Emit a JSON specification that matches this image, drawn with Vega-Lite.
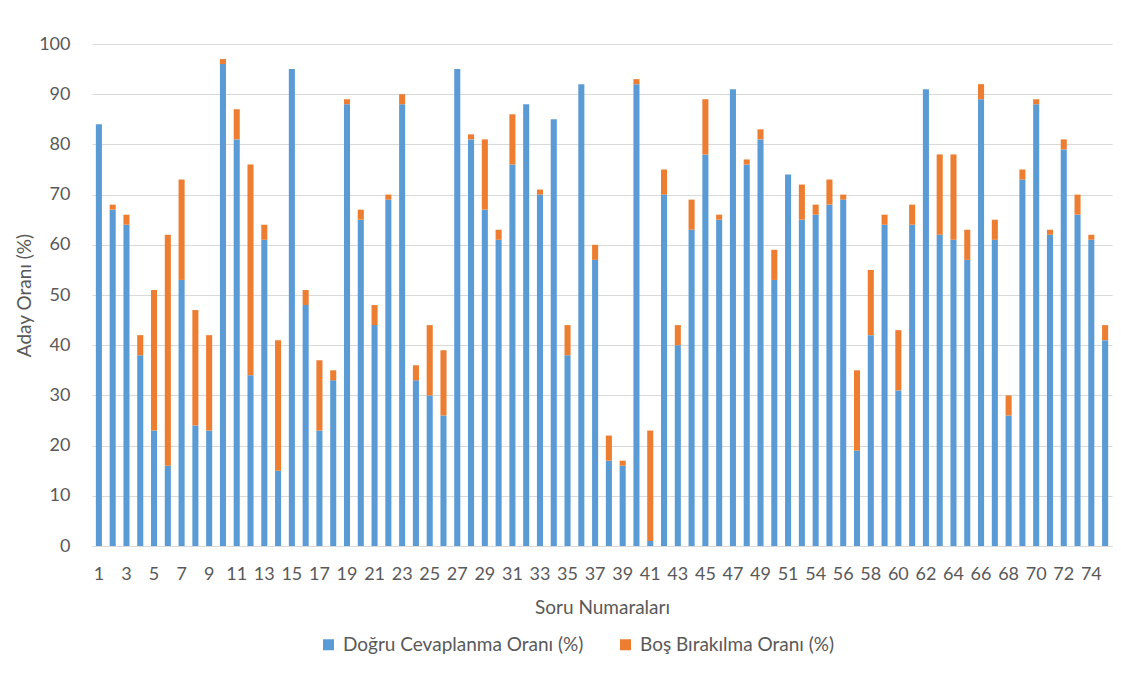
{
  "$schema": "https://vega.github.io/schema/vega-lite/v6.json",
  "autosize": {"type": "none"},
  "width": 1020,
  "height": 502,
  "padding": {"left": 92, "top": 44, "right": 9, "bottom": 128},
  "background": "white",
  "datasets": {
    "soru": [
      {"soru": "1", "dogru": 84, "toplam": 84},
      {"soru": "2", "dogru": 67, "toplam": 68},
      {"soru": "3", "dogru": 64, "toplam": 66},
      {"soru": "4", "dogru": 38, "toplam": 42},
      {"soru": "5", "dogru": 23, "toplam": 51},
      {"soru": "6", "dogru": 16, "toplam": 62},
      {"soru": "7", "dogru": 53, "toplam": 73},
      {"soru": "8", "dogru": 24, "toplam": 47},
      {"soru": "9", "dogru": 23, "toplam": 42},
      {"soru": "10", "dogru": 96, "toplam": 97},
      {"soru": "11", "dogru": 81, "toplam": 87},
      {"soru": "12", "dogru": 34, "toplam": 76},
      {"soru": "13", "dogru": 61, "toplam": 64},
      {"soru": "14", "dogru": 15, "toplam": 41},
      {"soru": "15", "dogru": 95, "toplam": 95},
      {"soru": "16", "dogru": 48, "toplam": 51},
      {"soru": "17", "dogru": 23, "toplam": 37},
      {"soru": "18", "dogru": 33, "toplam": 35},
      {"soru": "19", "dogru": 88, "toplam": 89},
      {"soru": "20", "dogru": 65, "toplam": 67},
      {"soru": "21", "dogru": 44, "toplam": 48},
      {"soru": "22", "dogru": 69, "toplam": 70},
      {"soru": "23", "dogru": 88, "toplam": 90},
      {"soru": "24", "dogru": 33, "toplam": 36},
      {"soru": "25", "dogru": 30, "toplam": 44},
      {"soru": "26", "dogru": 26, "toplam": 39},
      {"soru": "27", "dogru": 95, "toplam": 95},
      {"soru": "28", "dogru": 81, "toplam": 82},
      {"soru": "29", "dogru": 67, "toplam": 81},
      {"soru": "30", "dogru": 61, "toplam": 63},
      {"soru": "31", "dogru": 76, "toplam": 86},
      {"soru": "32", "dogru": 88, "toplam": 88},
      {"soru": "33", "dogru": 70, "toplam": 71},
      {"soru": "34", "dogru": 85, "toplam": 85},
      {"soru": "35", "dogru": 38, "toplam": 44},
      {"soru": "36", "dogru": 92, "toplam": 92},
      {"soru": "37", "dogru": 57, "toplam": 60},
      {"soru": "38", "dogru": 17, "toplam": 22},
      {"soru": "39", "dogru": 16, "toplam": 17},
      {"soru": "40", "dogru": 92, "toplam": 93},
      {"soru": "41", "dogru": 1, "toplam": 23},
      {"soru": "42", "dogru": 70, "toplam": 75},
      {"soru": "43", "dogru": 40, "toplam": 44},
      {"soru": "44", "dogru": 63, "toplam": 69},
      {"soru": "45", "dogru": 78, "toplam": 89},
      {"soru": "46", "dogru": 65, "toplam": 66},
      {"soru": "47", "dogru": 91, "toplam": 91},
      {"soru": "48", "dogru": 76, "toplam": 77},
      {"soru": "49", "dogru": 81, "toplam": 83},
      {"soru": "50", "dogru": 53, "toplam": 59},
      {"soru": "51", "dogru": 74, "toplam": 74},
      {"soru": "53", "dogru": 65, "toplam": 72},
      {"soru": "54", "dogru": 66, "toplam": 68},
      {"soru": "55", "dogru": 68, "toplam": 73},
      {"soru": "56", "dogru": 69, "toplam": 70},
      {"soru": "57", "dogru": 19, "toplam": 35},
      {"soru": "58", "dogru": 42, "toplam": 55},
      {"soru": "59", "dogru": 64, "toplam": 66},
      {"soru": "60", "dogru": 31, "toplam": 43},
      {"soru": "61", "dogru": 64, "toplam": 68},
      {"soru": "62", "dogru": 91, "toplam": 91},
      {"soru": "63", "dogru": 62, "toplam": 78},
      {"soru": "64", "dogru": 61, "toplam": 78},
      {"soru": "65", "dogru": 57, "toplam": 63},
      {"soru": "66", "dogru": 89, "toplam": 92},
      {"soru": "67", "dogru": 61, "toplam": 65},
      {"soru": "68", "dogru": 26, "toplam": 30},
      {"soru": "69", "dogru": 73, "toplam": 75},
      {"soru": "70", "dogru": 88, "toplam": 89},
      {"soru": "71", "dogru": 62, "toplam": 63},
      {"soru": "72", "dogru": 79, "toplam": 81},
      {"soru": "73", "dogru": 66, "toplam": 70},
      {"soru": "74", "dogru": 61, "toplam": 62},
      {"soru": "75", "dogru": 41, "toplam": 44}
    ]
  },
  "data": {"name": "soru"},
  "transform": [
    {"calculate": "datum.toplam - datum.dogru", "as": "bos"},
    {"fold": ["dogru", "bos"], "as": ["tip", "deger"]},
    {"calculate": "datum.tip === 'dogru' ? 'Doğru Cevaplanma Oranı (%)' : 'Boş Bırakılma Oranı (%)'", "as": "seri"}
  ],
  "mark": {"type": "bar"},
  "encoding": {
    "x": {
      "field": "soru",
      "type": "ordinal",
      "sort": null,
      "scale": {"paddingInner": 0.56, "paddingOuter": 0.28},
      "axis": {
        "title": "Soru Numaraları",
        "values": ["1","3","5","7","9","11","13","15","17","19","21","23","25","27","29","31","33","35","37","39","41","43","45","47","49","51","54","56","58","60","62","64","66","68","70","72","74"],
        "labelAngle": 0,
        "labelFont": "Lato",
        "labelFontSize": 18,
        "labelColor": "#595959",
        "labelPadding": 19,
        "ticks": false,
        "domainColor": "#D9D9D9",
        "titleFont": "Lato",
        "titleFontSize": 19,
        "titleFontWeight": "normal",
        "titleColor": "#595959",
        "titlePadding": 15
      }
    },
    "y": {
      "field": "deger",
      "type": "quantitative",
      "stack": "zero",
      "scale": {"domain": [0, 100], "nice": false},
      "axis": {
        "title": "Aday Oranı (%)",
        "values": [0,10,20,30,40,50,60,70,80,90,100],
        "labelFont": "Lato",
        "labelFontSize": 18,
        "labelColor": "#595959",
        "labelPadding": 22,
        "ticks": false,
        "domain": false,
        "gridColor": "#D9D9D9",
        "gridWidth": 1,
        "titleFont": "Lato",
        "titleFontSize": 19,
        "titleFontWeight": "normal",
        "titleColor": "#595959",
        "titlePadding": 4
      }
    },
    "color": {
      "field": "seri",
      "type": "nominal",
      "scale": {
        "domain": ["Doğru Cevaplanma Oranı (%)", "Boş Bırakılma Oranı (%)"],
        "range": ["#5B9BD5", "#ED7D31"]
      },
      "legend": {
        "title": null,
        "orient": "none",
        "direction": "horizontal",
        "legendX": 227,
        "legendY": 591,
        "symbolType": "square",
        "symbolSize": 121,
        "symbolStrokeWidth": 0,
        "labelFont": "Lato",
        "labelFontSize": 19,
        "labelColor": "#595959",
        "labelLimit": 400,
        "labelOffset": 5,
        "columnPadding": 32,
        "symbolOffset": 0
      }
    },
    "order": {"field": "seri", "sort": "descending"}
  },
  "config": {
    "view": {"stroke": null}
  }
}
